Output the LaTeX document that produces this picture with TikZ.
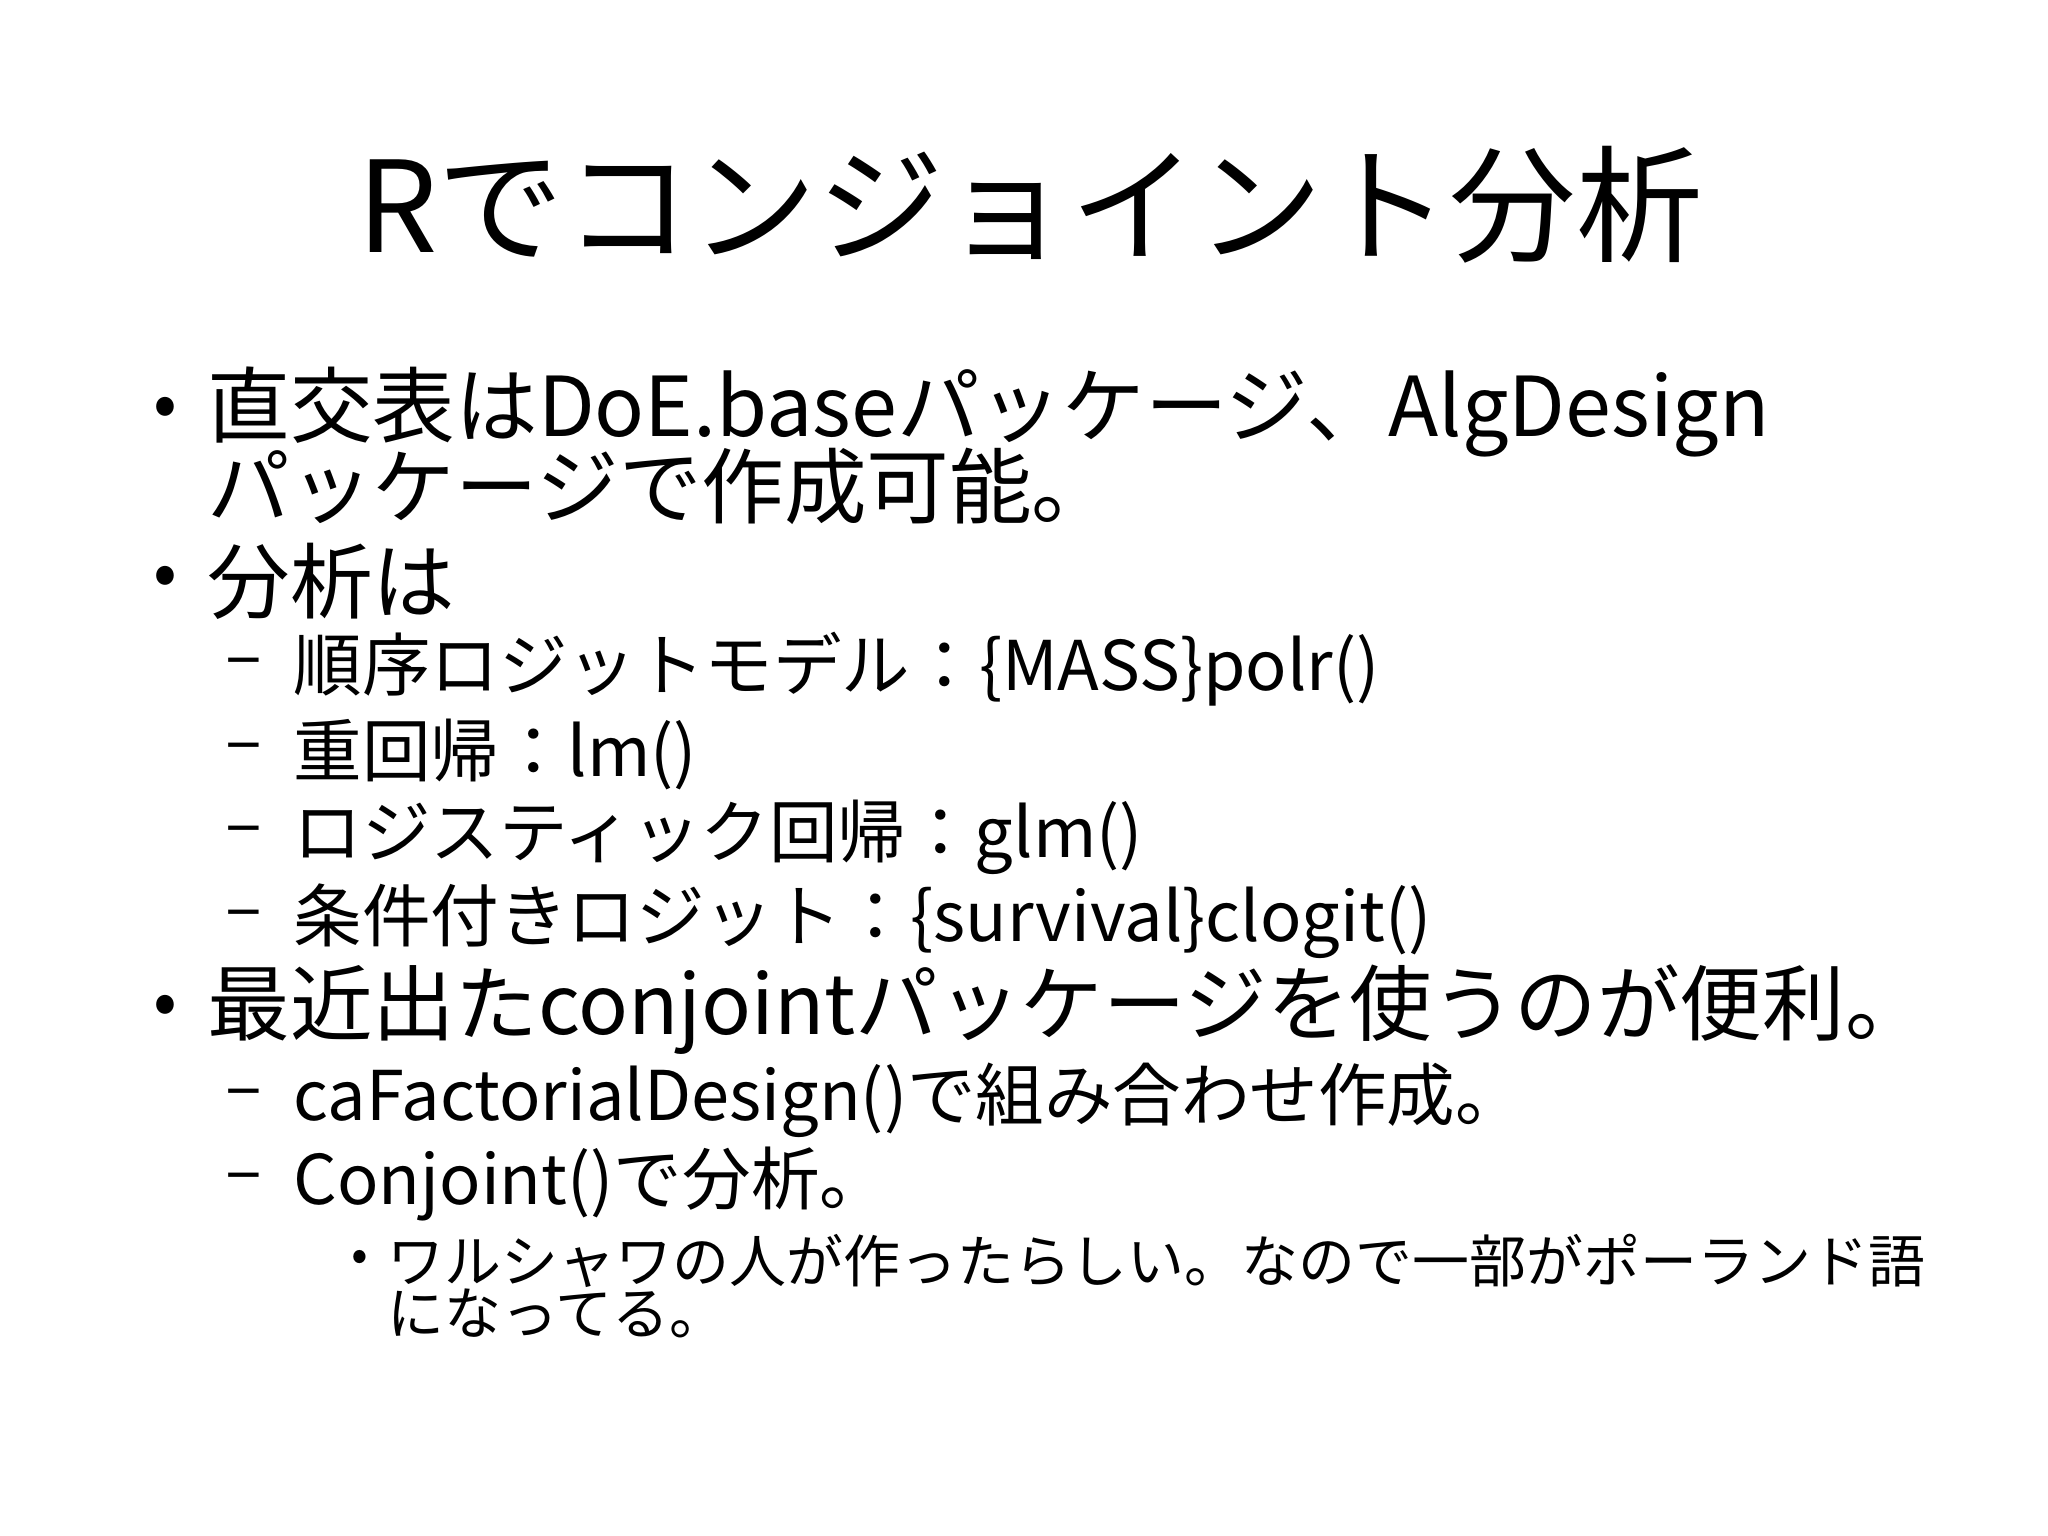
\documentclass[tikz,border=0pt]{standalone}
\usepackage{fontspec}
\setmainfont{Noto Sans CJK JP}
\begin{document}
\begin{tikzpicture}[
  t1/.style={anchor=west,font=\fontsize{23.5}{26}\selectfont,inner sep=0pt},
  t2/.style={anchor=west,font=\fontsize{19.5}{22}\selectfont,inner sep=0pt},
  t3/.style={anchor=west,font=\fontsize{16.2}{18}\selectfont,inner sep=0pt},
  mk1/.style={anchor=center,font=\fontsize{20}{22}\selectfont,inner sep=0pt},
  mk2/.style={anchor=center,font=\fontsize{19.5}{22}\selectfont,inner sep=0pt},
  mk3/.style={anchor=center,font=\fontsize{14}{16}\selectfont,inner sep=0pt}]
\useasboundingbox[fill=white] (0,0) rectangle (20.48,15.36);
\node[font=\fontsize{36}{42}\selectfont] (title) at (10.30,13.31) {Rでコンジョイント分析};
\node[mk1] (b1) at (1.65,11.24) {•};
\node[t1] (l1) at (2.07,11.24) {直交表はDoE.baseパッケージ、AlgDesign};
\node[t1] (l1b) at (2.07,10.50) {パッケージで作成可能。};
\node[mk1] (b2) at (1.65,9.55) {•};
\node[t1] (l2) at (2.07,9.55) {分析は};
\node[mk2] (d1) at (2.44,8.67) {–};
\node[t2] (s1) at (2.93,8.67) {順序ロジットモデル：\{MASS\}polr()};
\node[mk2] (d2) at (2.44,7.82) {–};
\node[t2] (s2) at (2.93,7.82) {重回帰：lm()};
\node[mk2] (d3) at (2.44,6.99) {–};
\node[t2] (s3) at (2.93,6.99) {ロジスティック回帰：glm()};
\node[mk2] (d4) at (2.44,6.15) {–};
\node[t2] (s4) at (2.93,6.15) {条件付きロジット：\{survival\}clogit()};
\node[mk1] (b3) at (1.65,5.26) {•};
\node[t1] (l3) at (2.07,5.26) {最近出たconjointパッケージを使うのが便利。};
\node[mk2] (d5) at (2.44,4.36) {–};
\node[t2] (s5) at (2.93,4.36) {caFactorialDesign()で組み合わせ作成。};
\node[mk2] (d6) at (2.44,3.52) {–};
\node[t2] (s6) at (2.93,3.52) {Conjoint()で分析。};
\node[mk3] (b4) at (3.60,2.75) {•};
\node[t3] (u1) at (3.87,2.75) {ワルシャワの人が作ったらしい。なので一部がポーランド語};
\node[t3] (u1b) at (3.87,2.23) {になってる。};
\end{tikzpicture}
\end{document}
